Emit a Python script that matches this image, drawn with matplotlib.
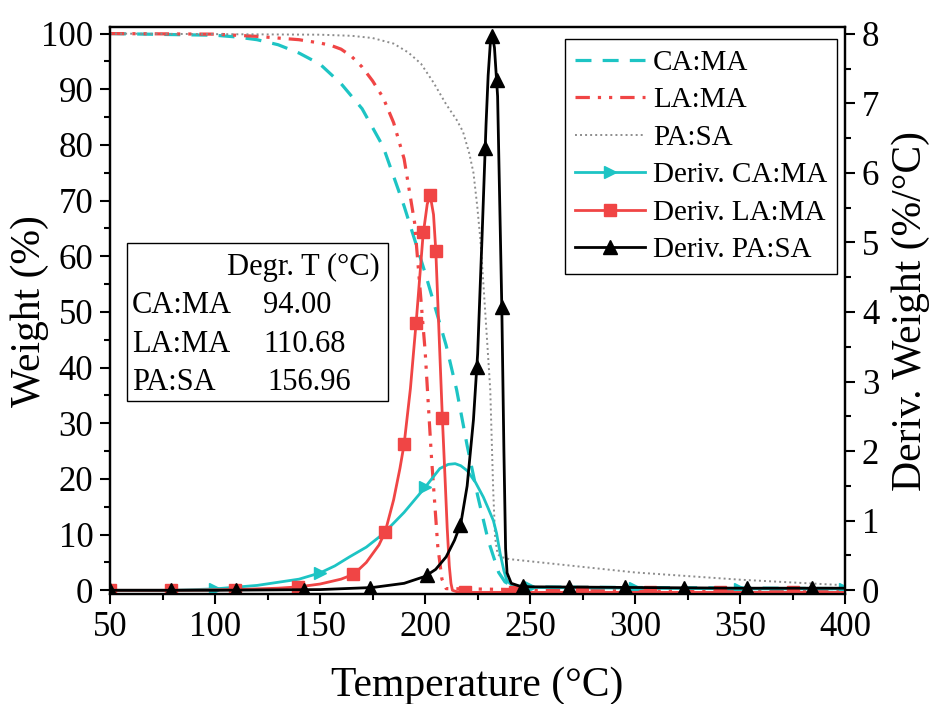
import numpy as np
import matplotlib
matplotlib.use('Agg')
import matplotlib.pyplot as plt
from matplotlib.patches import Rectangle

plt.rcParams['font.family'] = ['Liberation Serif', 'DejaVu Serif']

# TGA weight curves (%)
t_ca = [50, 100, 110, 120, 130, 140, 150, 160, 170, 180, 190, 200, 210, 215, 220, 225, 230, 235, 238, 241, 245, 250, 300, 350, 400]
w_ca = [100, 99.7, 99.4, 98.9, 98, 96.5, 94.5, 91, 86.5, 79.7, 69, 57, 44, 36, 26, 17, 9, 3.2, 1.5, 0.9, 0.7, 0.6, 0.5, 0.4, 0.3]

t_la = [50, 100, 120, 140, 150, 155, 160, 165, 170, 175, 180, 185, 190, 195, 200, 203, 206, 208, 210, 250, 300, 400]
w_la = [100, 99.9, 99.5, 98.9, 98.3, 97.9, 97.2, 95.9, 94, 91.5, 88.5, 84, 77.5, 66, 43, 24, 8, 2, 0.3, 0.1, 0.1, 0.1]

t_pa = [50, 150, 165, 175, 185, 192, 198, 204, 210, 215, 218, 221, 223, 224.8, 226.3, 227.6, 229.3, 231, 232.4,
        233.3, 234.5, 236, 240, 260, 300, 350, 400]
w_pa = [100, 99.8, 99.6, 99.2, 98.2, 96.6, 94.6, 91.2, 87.3, 84.5, 82.4, 78.5, 75, 69, 63, 55.8, 46, 36, 18,
        9.5, 6.5, 6.0, 5.6, 4.8, 3.2, 1.9, 0.9]

# DTG curves (%/°C)
td_ca = [50, 80, 100, 120, 140, 150, 157, 164, 172, 180, 190, 200, 207, 211, 214.3, 217, 220, 224, 227.7, 230,
         232.5, 234, 235.7, 237.5, 238.9, 241, 244, 250, 300, 350, 400]
d_ca = [0, 0.0, 0.02, 0.07, 0.16, 0.25, 0.35, 0.48, 0.62, 0.81, 1.12, 1.48, 1.75, 1.81, 1.82, 1.79, 1.72, 1.55, 1.34, 1.18,
        1.0, 0.82, 0.53, 0.28, 0.14, 0.08, 0.05, 0.04, 0.03, 0.02, 0.02]

td_la = [50, 80, 110, 130, 140, 150, 160, 166, 172, 178, 181, 185, 188, 190, 193, 196, 199, 201, 202.4, 204, 205.1,
         207, 208.2, 209.5, 210.5, 211.5, 212.3, 213, 215, 220, 250, 300, 350, 400]
d_la = [0, 0, 0.01, 0.03, 0.05, 0.09, 0.16, 0.23, 0.4, 0.65, 0.84, 1.3, 1.75, 2.1, 2.9, 3.95, 5.1, 5.55, 5.68, 5.4, 4.87,
        3.4, 2.48, 1.6, 0.9, 0.35, 0.1, 0.0, -0.02, -0.03, -0.03, -0.03, -0.03, -0.03]

td_pa = [50, 100, 150, 175, 190, 200, 205, 210, 214, 217, 220, 223, 225, 227, 229, 230, 231, 232, 233, 234.5,
         236.5, 237.5, 238.3, 239, 241, 245, 250, 300, 350, 400]
d_pa = [0, 0, 0.01, 0.04, 0.1, 0.2, 0.3, 0.48, 0.72, 0.96, 1.5, 2.45, 3.4, 5.0, 6.7, 7.4, 7.85, 7.97, 7.8, 7.1,
        4.07, 2.0, 0.6, 0.25, 0.1, 0.06, 0.05, 0.04, 0.03, 0.03]

# marker positions (°C)
mk_ca = [50, 100, 150, 200, 250, 300, 350, 400]
mk_la = [50, 79, 109.5, 139.5, 165.9, 181, 190, 195.7, 199.2, 202.4, 205.1, 208.2, 219, 243, 274.6, 307, 340.5, 375]
mk_pa = [50, 78.9, 110, 142.4, 174, 201, 216.7, 224.6, 228.6, 232, 234, 236.5, 246.7, 268.3, 294.9, 323.3, 353.2, 384]

# inset table
tbl_names = ['CA:MA', 'LA:MA', 'PA:SA']
tbl_vals = ['94.00', '110.68', '156.96']

cyan = '#1DC4C4'
red = '#F04545'
gray = '#8C8C8C'

fig = plt.figure(figsize=(9.32, 7.04), dpi=100)
ax = fig.add_axes([0.118, 0.156, 0.789, 0.805])
ax2 = ax.twinx()

l1, = ax.plot(t_ca, w_ca, color=cyan, lw=2.3, ls=(0, (5, 3.5)), label='CA:MA')
l2, = ax.plot(t_la, w_la, color=red, lw=2.3, ls=(0, (4.5, 2.5, 1, 2.5, 1, 2.5)), label='LA:MA')
l3, = ax.plot(t_pa, w_pa, color=gray, lw=1.4, ls=(0, (1, 1.6)), label='PA:SA')

lw = 2.0
ms_c, ms_r, ms_b = 9, 8, 10
l4, = ax2.plot(td_ca, d_ca, color=cyan, lw=lw)
ax2.plot(mk_ca, np.interp(mk_ca, td_ca, d_ca), ls='none', marker='>', ms=ms_c, color=cyan)
l5, = ax2.plot(td_la, d_la, color=red, lw=lw)
ax2.plot(mk_la, np.interp(mk_la, td_la, d_la), ls='none', marker='s', ms=ms_r, color=red)
l6, = ax2.plot(td_pa, d_pa, color='black', lw=lw)
ax2.plot(mk_pa, np.interp(mk_pa, td_pa, d_pa), ls='none', marker='^', ms=ms_b, color='black')

ax.set_xlim(50, 400)
ax.set_ylim(-0.7, 101.1)
ax2.set_ylim(-0.056, 8.09)

ax.set_xticks(np.arange(50, 401, 50))
ax.set_xticks(np.arange(75, 400, 50), minor=True)
ax.set_yticks(np.arange(0, 101, 10))
ax.set_yticks(np.arange(5, 100, 10), minor=True)
ax2.set_yticks(np.arange(0, 9, 1))
ax2.set_yticks(np.arange(0.5, 8, 1), minor=True)

for a in (ax, ax2):
    a.tick_params(which='major', direction='out', length=7, width=1.5, labelsize=25, pad=5)
    a.tick_params(which='minor', direction='out', length=4, width=1.5)
    for s in a.spines.values():
        s.set_linewidth(1.6)

ax.set_xlabel('Temperature (°C)', fontsize=30)
ax.set_ylabel('Weight (%)', fontsize=30)
ax2.set_ylabel('Deriv. Weight (%/°C)', fontsize=30)
ax.xaxis.set_label_coords(0.5, -0.127)
ax.yaxis.set_label_coords(-0.083, 0.5)
ax2.yaxis.set_label_coords(1.063, 0.5)

handles = [l1, l2, l3,
           plt.Line2D([], [], color=cyan, lw=lw, marker='>', ms=ms_c),
           plt.Line2D([], [], color=red, lw=lw, marker='s', ms=ms_r),
           plt.Line2D([], [], color='black', lw=lw, marker='^', ms=ms_b)]
labels = ['CA:MA', 'LA:MA', 'PA:SA', 'Deriv. CA:MA', 'Deriv. LA:MA', 'Deriv. PA:SA']
leg = ax2.legend(handles=handles, labels=labels,
                 loc='upper right', bbox_to_anchor=(0.989, 0.979), fontsize=21, fancybox=False,
                 edgecolor='black', framealpha=1, handlelength=2.4, handletextpad=0.27,
                 labelspacing=0.38, borderpad=0.35, borderaxespad=0)
leg.get_frame().set_linewidth(1.0)

# inset table of degradation temperatures
ax.add_patch(Rectangle((0.023, 0.340), 0.355, 0.279, transform=ax.transAxes,
                       fill=False, edgecolor='black', lw=1.0, zorder=5))
ax.text(0.367, 0.563, 'Degr. T (°C)', transform=ax.transAxes, ha='right', va='baseline', fontsize=22)
rows_y = [0.496, 0.427, 0.360]
vals_x = [0.208, 0.208, 0.214]
for name, val, y, vx in zip(tbl_names, tbl_vals, rows_y, vals_x):
    ax.text(0.030, y, name, transform=ax.transAxes, ha='left', va='baseline', fontsize=22)
    ax.text(vx, y, val, transform=ax.transAxes, ha='left', va='baseline', fontsize=22)

fig.savefig('out.png', dpi=100)
